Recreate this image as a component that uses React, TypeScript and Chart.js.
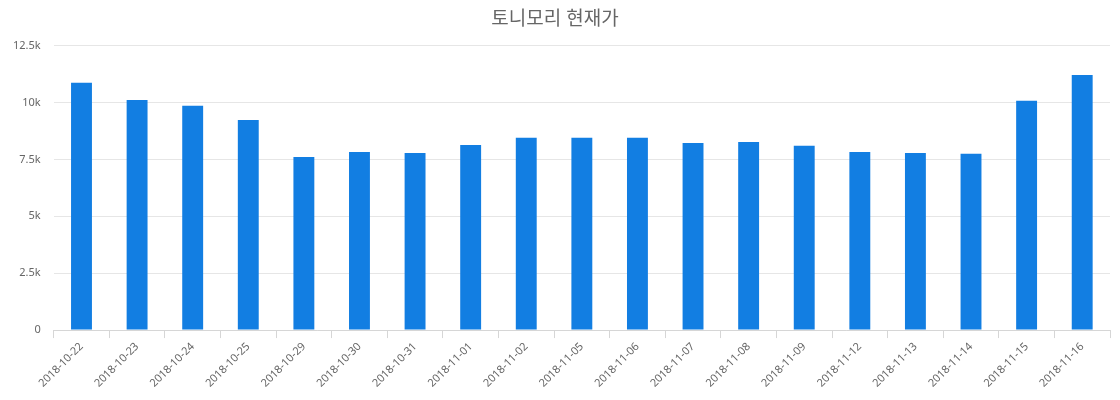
import React, { useEffect, useRef } from "react";
import { Chart, registerables } from "chart.js";

Chart.register(...registerables);

const categories = [
  "2018-10-22", "2018-10-23", "2018-10-24", "2018-10-25", "2018-10-29",
  "2018-10-30", "2018-10-31", "2018-11-01", "2018-11-02", "2018-11-05",
  "2018-11-06", "2018-11-07", "2018-11-08", "2018-11-09", "2018-11-12",
  "2018-11-13", "2018-11-14", "2018-11-15", "2018-11-16",
];
const prices = [
  10870, 10120, 9860, 9240, 7610, 7830, 7790, 8140, 8460, 8460,
  8460, 8230, 8270, 8100, 7830, 7790, 7750, 10080, 11220,
];
const titleText = "토니모리 현재가";
const yMax = 12500;
const yStep = 2500;

export default function App() {
  const ref = useRef<HTMLCanvasElement>(null);
  useEffect(() => {
    if (!ref.current) return;
    const font = "'Noto Sans', 'Noto Sans CJK KR', sans-serif";
    const chart = new Chart(ref.current, {
      type: "bar",
      data: {
        labels: categories,
        datasets: [
          {
            label: titleText,
            data: prices,
            backgroundColor: "#127ee2",
            barPercentage: 0.47,
            categoryPercentage: 0.8,
          },
        ],
      },
      options: {
        animation: false,
        responsive: true,
        maintainAspectRatio: false,
        layout: { padding: { top: 8, right: 10, left: 0, bottom: 8 } },
        plugins: {
          legend: { display: false },
          tooltip: { enabled: false },
          title: {
            display: true,
            text: titleText,
            color: "#666666",
            font: { family: font, size: 19, weight: "normal" },
            padding: { top: 0, bottom: 15 },
          },
        },
        scales: {
          x: {
            grid: {
              display: true,
              drawOnChartArea: false,
              drawTicks: true,
              tickLength: 8,
              color: "#d6d6d6",
            },
            border: { display: true, color: "#d6d6d6" },
            ticks: {
              color: "#666666",
              font: { family: font, size: 11 },
              maxRotation: 45,
              minRotation: 45,
              autoSkip: false,
              padding: 2,
            },
          },
          y: {
            min: 0,
            max: yMax,
            grid: { color: "#e6e6e6", drawTicks: false },
            border: { display: false },
            ticks: {
              stepSize: yStep,
              color: "#666666",
              font: { family: font, size: 11 },
              padding: 13,
              callback: (v: any) => (v === 0 ? "0" : `${Number(v) / 1000}k`),
            },
          },
        },
      },
    });
    return () => chart.destroy();
  }, []);
  return (
    <div style={{ position: "fixed", left: 0, top: 0, width: 1120, height: 400, background: "#fff" }}>
      <canvas ref={ref} />
    </div>
  );
}
